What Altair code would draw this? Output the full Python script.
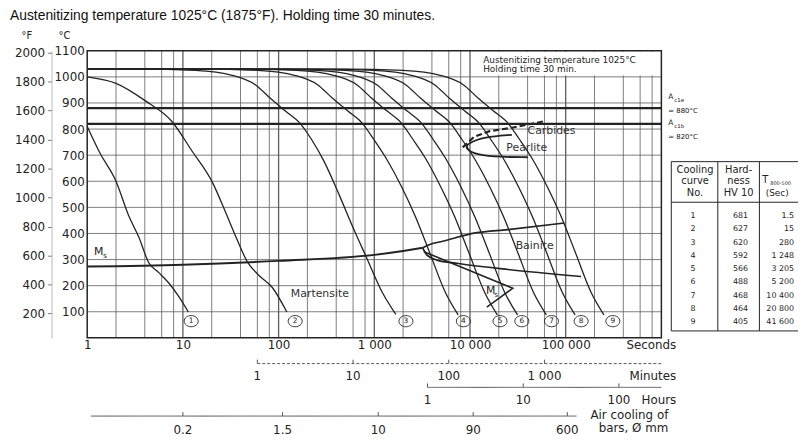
import altair as alt
import pandas as pd

INK = "#232323"
GRID = "#5c5c5c"
FONT = "DejaVu Sans"

TITLE = "Austenitizing temperature 1025°C (1875°F). Holding time 30 minutes."
BOX_LINE_1 = "Austenitizing temperature 1025°C"
BOX_LINE_2 = "Holding time 30 min."

# ---- cooling curves: time (s) and temperature (°C) ----
curve_1_t = [1, 1.35, 2.0, 2.7, 3.45, 4.4, 5.6, 7.05, 9.0, 11.4]
curve_1_T = [810, 710, 600, 470, 387, 288, 250, 212, 160, 99]
curve_2_t = [1, 2, 4.1, 7.6, 12.5, 20.6, 28, 37, 47, 62, 86, 122]
curve_2_T = [1000, 975, 907, 831, 715, 592, 480, 375, 292, 240, 193, 99]
curve_3_t = [1, 3.4, 13.4, 33.5, 57, 82, 117, 167, 221, 295, 433, 604, 824, 1230, 1680]
curve_3_T = [1030, 1030, 1025, 1005, 970, 918, 870, 823, 760, 680, 545, 420, 310, 170, 90]
curve_4_t = [1, 15, 60, 150, 255, 366, 525, 747, 990, 1320, 1940, 2700, 3690, 5520, 7530]
curve_4_T = [1030, 1030, 1025, 1005, 970, 918, 870, 823, 760, 690, 577, 463, 338, 175, 88]
curve_5_t = [1, 38, 154, 385, 655, 940, 1350, 1920, 2540, 3400, 4970, 6940, 9470, 14200, 19300]
curve_5_T = [1030, 1030, 1025, 1005, 970, 918, 870, 823, 760, 690, 577, 463, 338, 175, 88]
curve_6_t = [1, 62, 250, 625, 1060, 1525, 2190, 3110, 4125, 5510, 8075, 11260, 15400, 23000, 31400]
curve_6_T = [1030, 1030, 1025, 1005, 970, 918, 870, 823, 760, 690, 577, 463, 338, 175, 88]
curve_7_t = [1, 125, 500, 1250, 2125, 3050, 4375, 6225, 8250, 11000, 16150, 22500, 30750, 46000, 62750]
curve_7_T = [1030, 1030, 1025, 1005, 970, 918, 870, 823, 760, 690, 577, 463, 338, 175, 88]
curve_8_t = [1, 250, 1000, 2500, 4250, 6100, 8750, 12450, 16500, 22050, 32300, 45050, 61500, 92000, 125500]
curve_8_T = [1030, 1030, 1025, 1005, 970, 918, 870, 823, 760, 690, 577, 463, 338, 175, 88]
curve_9_t = [1, 500, 2000, 5000, 8500, 12200, 17500, 24900, 33000, 44100, 64600, 90100, 123000, 184000, 251000]
curve_9_T = [1030, 1030, 1025, 1005, 970, 918, 870, 823, 760, 690, 577, 463, 338, 175, 88]

# curve number markers at the foot of each curve
label_no = [1, 2, 3, 4, 5, 6, 7, 8, 9]
label_t = [12.2, 149, 2140, 8530, 20600, 34800, 71100, 145000, 311000]
label_T = [64, 64, 64, 64, 64, 64, 64, 64, 64]

# transformation lines
ac_T = [880, 820]
ms_t = [1, 10, 100, 1000, 2000, 3210]
ms_T = [273, 280, 295, 318, 333, 345]
bs_t = [3210, 3800, 5180, 11350, 24900, 96800]
bs_T = [345, 358, 370, 402, 415, 440]
bf_t = [3210, 3500, 4500, 7560, 24900, 145000]
bf_T = [345, 320, 298, 285, 262, 235]
msb_t = [3300, 28000, 15000]
msb_T = [330, 190, 118]
pearl_t = [27400, 14000, 9380, 8970, 10570, 17000, 40100]
pearl_T = [778, 770, 744, 728, 706, 693, 692]
carb_t = [8400, 11000, 16000, 27400, 60000]
carb_T = [730, 770, 792, 805, 830]

# region names
region_text = ["Martensite", "Bainite", "Pearlite", "Carbides"]
region_t = [270, 47400, 39200, 71100]
region_T = [167, 353, 728, 793]

# grid and axes
grid_t = [2, 4, 6, 8, 20, 40, 60, 80, 200, 400, 600, 800, 2000, 4000, 6000, 8000,
          20000, 40000, 60000, 80000, 200000, 400000, 600000, 800000]
decade_t = [10, 100, 1000, 10000, 100000]
grid_T = [100, 200, 300, 400, 500, 600, 700, 800, 900, 1000]
sec_ticks = [1, 10, 100, 1000, 10000, 100000]
sec_labels = ["1", "10", "100", "1 000", "10 000", "100 000"]
c_ticks = [100, 200, 300, 400, 500, 600, 700, 800, 900, 1000, 1100]
f_ticks = [200, 400, 600, 800, 1000, 1200, 1400, 1600, 1800, 2000]
min_ticks_s = [60, 600, 6000, 60000]
min_labels = ["1", "10", "100", "1 000"]
hour_ticks_s = [3600, 36000, 360000]
hour_labels = ["1", "10", "100"]
bar_ticks_s = [10, 110, 1100, 10800, 104000]
bar_labels = ["0.2", "1.5", "10", "90", "600"]

# table
table_curve = [1, 2, 3, 4, 5, 6, 7, 8, 9]
table_hv = [681, 627, 620, 592, 566, 488, 468, 464, 405]
table_t85 = ["1.5", "15", "280", "1 248", "3 205", "5 200", "10 400", "20 800", "41 600"]

# ---------------- construction ----------------
W, H = 580, 290
DUMMY = pd.DataFrame({"d": [0]})

expr = "''"
for v, l in zip(reversed(sec_ticks), reversed(sec_labels)):
    expr = f"datum.value == {v} ? '{l}' : ({expr})"

X = alt.X("t:Q", scale=alt.Scale(type="log", domain=[1, 1000000], nice=False),
          axis=alt.Axis(values=sec_ticks, labelExpr=expr, tickSize=0, domain=False, grid=False,
                        labelPadding=2, labelFont=FONT, labelFontSize=12, labelColor=INK,
                        labelFlush=False, labelOverlap=False, title=None))
Y = alt.Y("T:Q", scale=alt.Scale(domain=[0, 1100], nice=False, zero=False),
          axis=alt.Axis(values=c_ticks, format="d", tickSize=0, domain=False, grid=False,
                        labelPadding=3, labelFont=FONT, labelFontSize=12, labelColor=INK,
                        labelFlush=False, labelOverlap=False, title=None))


def txt(s, x, y, size=12, align="left", font=FONT, color=INK):
    return alt.Chart(DUMMY).mark_text(text=s, align=align, baseline="middle", font=font,
                                      fontSize=size, color=color).encode(x=alt.value(x), y=alt.value(y))


def hline(x1, x2, y, w=1.0, color=INK):
    return alt.Chart(DUMMY).mark_rule(color=color, strokeWidth=w).encode(
        x=alt.value(x1), x2=alt.value(x2), y=alt.value(y))


def vline(x, y1, y2, w=1.0, color=INK):
    return alt.Chart(DUMMY).mark_rule(color=color, strokeWidth=w).encode(
        x=alt.value(x), y=alt.value(y1), y2=alt.value(y2))


def path_df(ts, Ts):
    return pd.DataFrame({"t": ts, "T": Ts, "i": list(range(len(ts)))})


layers = []
# grid
layers.append(alt.Chart(pd.DataFrame({"t": grid_t})).mark_rule(color=GRID, strokeWidth=0.8).encode(
    x=X, y=alt.value(0), y2=alt.value(H)))
layers.append(alt.Chart(pd.DataFrame({"t": decade_t})).mark_rule(color=GRID, strokeWidth=1.3).encode(
    x=X, y=alt.value(0), y2=alt.value(H)))
layers.append(alt.Chart(pd.DataFrame({"T": grid_T})).mark_rule(color=GRID, strokeWidth=0.8).encode(
    y=Y, x=alt.value(0), x2=alt.value(W)))
# note box in the top right corner
layers.append(alt.Chart(DUMMY).mark_rect(color="white").encode(
    x=alt.value(397), x2=alt.value(W - 1), y=alt.value(1), y2=alt.value(25)))
layers.append(txt(BOX_LINE_1, 400, 9, size=9))
layers.append(txt(BOX_LINE_2, 400, 18, size=9))

# Ac lines
layers.append(alt.Chart(pd.DataFrame({"T": ac_T})).mark_rule(color=INK, strokeWidth=2.2).encode(
    y=Y, x=alt.value(0), x2=alt.value(W)))

# cooling curves
rows = []
for cid, ts, Ts in [(1, curve_1_t, curve_1_T), (2, curve_2_t, curve_2_T), (3, curve_3_t, curve_3_T),
                    (4, curve_4_t, curve_4_T), (5, curve_5_t, curve_5_T), (6, curve_6_t, curve_6_T),
                    (7, curve_7_t, curve_7_T), (8, curve_8_t, curve_8_T), (9, curve_9_t, curve_9_T)]:
    for i, (t, T) in enumerate(zip(ts, Ts)):
        rows.append({"curve": cid, "i": i, "t": t, "T": T})
curves_df = pd.DataFrame(rows)
layers.append(alt.Chart(curves_df).mark_line(interpolate="monotone", color=INK, strokeWidth=1.3).encode(
    x=X, y=Y, detail="curve:N", order="i:Q"))

# transformation lines
layers.append(alt.Chart(path_df(ms_t, ms_T)).mark_line(color=INK, strokeWidth=2.0, interpolate="monotone").encode(
    x=X, y=Y, order="i:Q"))
layers.append(alt.Chart(path_df(bs_t, bs_T)).mark_line(color=INK, strokeWidth=1.7, interpolate="monotone").encode(
    x=X, y=Y, order="i:Q"))
layers.append(alt.Chart(path_df(bf_t, bf_T)).mark_line(color=INK, strokeWidth=1.7, interpolate="monotone").encode(
    x=X, y=Y, order="i:Q"))
layers.append(alt.Chart(path_df(msb_t, msb_T)).mark_line(color=INK, strokeWidth=1.6).encode(
    x=X, y=Y, order="i:Q"))
layers.append(alt.Chart(path_df(pearl_t, pearl_T)).mark_line(color=INK, strokeWidth=1.8, interpolate="basis").encode(
    x=X, y=Y, order="i:Q"))
layers.append(alt.Chart(path_df(carb_t, carb_T)).mark_line(color=INK, strokeWidth=2.2, strokeDash=[6, 3]).encode(
    x=X, y=Y, order="i:Q"))

# curve number markers
lab_df = pd.DataFrame({"t": label_t, "T": label_T, "n": [str(n) for n in label_no]})
ellipse = "M -1 0 A 1 0.8 0 1 1 1 0 A 1 0.8 0 1 1 -1 0 Z"
layers.append(alt.Chart(lab_df).mark_point(shape=ellipse, size=200, filled=False, color=INK, strokeWidth=0.9,
                                           opacity=1).encode(x=X, y=Y))
layers.append(alt.Chart(lab_df).mark_text(font=FONT, fontSize=7.5, color=INK).encode(x=X, y=Y, text="n:N"))

# region names
reg_df = pd.DataFrame({"t": region_t, "T": region_T, "s": region_text})
layers.append(alt.Chart(reg_df).mark_text(font=FONT, fontSize=11, color="#333333").encode(x=X, y=Y, text="s:N"))
# M_s labels
ms_lab = pd.DataFrame({"t": [1.18, 14700], "T": [330, 178]})
ms_sub = pd.DataFrame({"t": [1.46, 17900], "T": [312, 166]})
layers.append(alt.Chart(ms_lab).mark_text(text="M", align="left", font=FONT, fontSize=11, color=INK).encode(x=X, y=Y))
layers.append(alt.Chart(ms_sub).mark_text(text="s", align="left", font=FONT, fontSize=7.5, color=INK).encode(x=X, y=Y))

# secondary time axes below the plot
def sub_axis(ticks, labels, start, end, y_line, y_lab, dash):
    line = alt.Chart(pd.DataFrame({"t": [start], "t2": [end]})).mark_rule(
        color="#555555", strokeWidth=1, strokeDash=dash).encode(x=X, x2="t2:Q", y=alt.value(y_line))
    tdf = pd.DataFrame({"t": ticks, "lab": labels})
    tk = alt.Chart(tdf).mark_rule(color="#555555", strokeWidth=1).encode(
        x=X, y=alt.value(y_line - 4), y2=alt.value(y_line))
    lb = alt.Chart(tdf).mark_text(font=FONT, fontSize=12, color=INK, baseline="middle").encode(
        x=X, y=alt.value(y_lab), text="lab:N")
    return [line, tk, lb]

layers += sub_axis(min_ticks_s, min_labels, 60, 1000000, 316, 329, [3, 2])
layers += sub_axis(hour_ticks_s, hour_labels, 3600, 1000000, 340, 353, [1, 0])
layers += sub_axis(bar_ticks_s, bar_labels, 1.1, 130000, 369, 383, [1, 0])
layers.append(txt("Seconds", 595, 297, align="right"))
layers.append(txt("Minutes", 595, 329, align="right"))
layers.append(txt("Hours", 595, 353, align="right"))
layers.append(txt("Air cooling of", 587, 368, align="right"))
layers.append(txt("bars, Ø mm", 587, 381, align="right"))

# title and unit labels
layers.append(txt(TITLE, -78, -35, size=14, font="Liberation Sans", color="#111111"))
layers.append(txt("°F", -61, -15, size=10, align="center"))
layers.append(txt("°C", -23, -15, size=10, align="center"))

# Ac labels at the right edge
layers.append(txt("A", 587, 47, size=7.5))
layers.append(txt("c1e", 593, 50, size=5.5))
layers.append(txt("≈ 880°C", 587, 61, size=7))
layers.append(txt("A", 587, 73, size=7.5))
layers.append(txt("c1b", 593, 76, size=5.5))
layers.append(txt("≈ 820°C", 587, 87, size=7))

# table frame and headers
TL, TR, TT, TB, TH = 590, 730, 112, 283, 153
layers += [hline(TL, TR, TT), hline(TL, TR, TH), hline(TL, TR, TB),
           vline(TL, TT, TB), vline(637, TT, TB), vline(679, TT, TB)]
layers += [txt("Cooling", 614, 120, size=10, align="center"),
           txt("curve", 614, 132, size=10, align="center"),
           txt("No.", 614, 144, size=10, align="center"),
           txt("Hard-", 658, 120, size=10, align="center"),
           txt("ness", 658, 132, size=10, align="center"),
           txt("HV 10", 658, 144, size=10, align="center"),
           txt("T", 682, 131, size=10),
           txt("800-500", 690, 134, size=5),
           txt("(Sec)", 697, 144, size=9, align="center")]

# frame of the plot
layers.append(alt.Chart(DUMMY).mark_rect(fill="white", fillOpacity=0, stroke=INK, strokeWidth=1.5).encode(
    x=alt.value(0), x2=alt.value(W), y=alt.value(0), y2=alt.value(H)))

main = alt.layer(*layers)

# Fahrenheit axis (same temperatures, second scale)
f_layer = alt.Chart(pd.DataFrame({"F": f_ticks})).mark_point(opacity=0).encode(
    y=alt.Y("F:Q", scale=alt.Scale(domain=[32, 2012], nice=False, zero=False),
            axis=alt.Axis(orient="left", offset=36, values=f_ticks, format="d", tickSize=4,
                          tickColor="#777777", domainColor="#bbbbbb", labelPadding=3, labelFont=FONT,
                          labelFontSize=12, labelColor=INK, labelFlush=False, labelOverlap=False,
                          grid=False, title=None)))

# table values
tbl = pd.DataFrame({"row": table_curve, "no": [str(c) for c in table_curve],
                    "hv": [str(h) for h in table_hv], "t85": table_t85})
row_y = alt.Y("row:Q", scale=alt.Scale(domain=[1, 9], range=[167, 274], zero=False, nice=False), axis=None)
col1 = alt.Chart(tbl).mark_text(font=FONT, fontSize=8, color=INK).encode(x=alt.value(612), y=row_y, text="no:N")
col2 = alt.Chart(tbl).mark_text(font=FONT, fontSize=8, color=INK).encode(x=alt.value(660), y=row_y, text="hv:N")
col3 = alt.Chart(tbl).mark_text(font=FONT, fontSize=8, color=INK, align="right").encode(
    x=alt.value(714), y=row_y, text="t85:N")
table = alt.layer(col1, col2, col3)

chart = alt.layer(main, f_layer, table).resolve_scale(y="independent").properties(
    width=W, height=H,
    autosize=alt.AutoSizeParams(type="none"),
    padding={"left": 80, "top": 41, "right": 138, "bottom": 104},
).configure_view(stroke=None)

chart.save("out.html", embed_options={"renderer": "svg", "actions": False})
